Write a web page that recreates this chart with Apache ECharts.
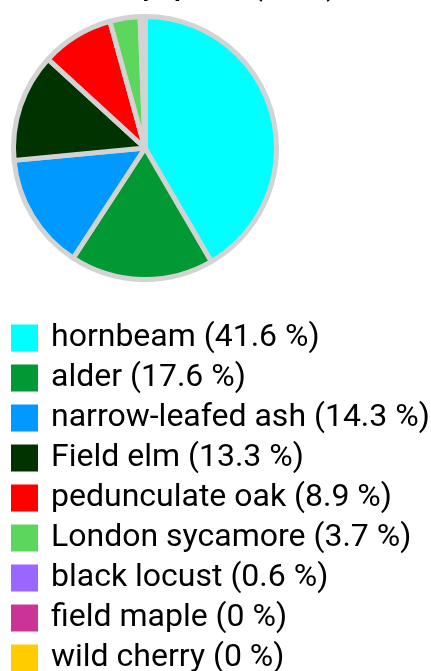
<!DOCTYPE html>
<html>
<head>
<meta charset="utf-8">
<script src="https://cdn.jsdelivr.net/npm/echarts@6/dist/echarts.min.js"></script>
<style>
html,body{margin:0;padding:0;background:#fff;}
#chart{width:431px;height:671px;}
</style>
</head>
<body>
<div id="chart"></div>
<script>
const titleText = "Trees by species (count)";
const species = ["hornbeam", "alder", "narrow-leafed ash", "Field elm", "pedunculate oak", "London sycamore", "black locust", "field maple", "wild cherry"];
const shares = [41.6, 17.6, 14.3, 13.3, 8.9, 3.7, 0.6, 0, 0];
const colors = ["#00ffff", "#009933", "#0099ff", "#003300", "#ff0000", "#5cd65c", "#9966ff", "#cc3399", "#ffcc00"];

const chart = echarts.init(document.getElementById('chart'), null, {renderer: 'canvas'});
const data = species.map((n, i) => ({name: n, value: shares[i], itemStyle: {color: colors[i]}}));
chart.setOption({
  animation: false,
  title: {
    text: titleText,
    left: 54,
    top: -28,
    textStyle: {fontFamily: 'Roboto', fontWeight: 'bold', fontSize: 25, color: '#000'}
  },
  legend: {
    orient: 'vertical',
    left: 11,
    top: 322,
    height: 400,
    padding: 0,
    itemWidth: 27,
    itemHeight: 27,
    itemGap: 8,
    icon: 'rect',
    selectedMode: false,
    data: species,
    itemStyle: {borderWidth: 0},
    formatter: function (name) {
      const i = species.indexOf(name);
      return name + ' (' + shares[i] + ' %)';
    },
    textStyle: {fontFamily: 'Roboto', fontSize: 32, color: '#000', padding: [0, 0, 0, 8]}
  },
  series: [{
    type: 'pie',
    center: [145, 148],
    radius: [0, 131.5],
    startAngle: 90,
    clockwise: true,
    label: {show: false},
    labelLine: {show: false},
    emphasis: {disabled: true},
    itemStyle: {borderColor: '#d3d3d3', borderWidth: 5},
    data: data
  }]
});
</script>
</body>
</html>
